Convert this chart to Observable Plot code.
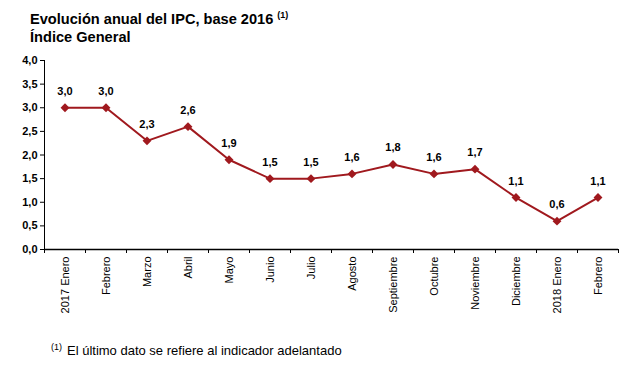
<!DOCTYPE html>
<html><head><meta charset="utf-8">
<script src="https://cdn.jsdelivr.net/npm/d3@7"></script>
<script src="https://cdn.jsdelivr.net/npm/@observablehq/plot@0.6"></script>
<style>
body{margin:0;background:#fff;font-family:"Liberation Sans",Arial,sans-serif;color:#000}
#wrap{position:relative;width:633px;height:366px}
#title{position:absolute;left:30px;top:6px;font-weight:bold;font-size:14.6px;line-height:18px;white-space:nowrap}
#title sup{font-size:9px;vertical-align:6px;margin-left:4px}
#foot{position:absolute;left:51px;top:340px;font-size:13px;line-height:15px;white-space:nowrap}
#foot sup{font-size:9px;vertical-align:5px;margin-right:5px}
#chart{position:absolute;left:0;top:0}
</style></head>
<body>
<div id="wrap">
<div id="chart"></div>
<div id="title">Evolución anual del IPC, base 2016<sup>(1)</sup><br>Índice General</div>
<div id="foot"><sup>(1)</sup>El último dato se refiere al indicador adelantado</div>
</div>
<script>
const months = ["2017 Enero","Febrero","Marzo","Abril","Mayo","Junio","Julio","Agosto","Septiembre","Octubre","Noviembre","Diciembre","2018 Enero","Febrero"];
const values = [3.0,3.0,2.3,2.6,1.9,1.5,1.5,1.6,1.8,1.6,1.7,1.1,0.6,1.1];
const yTicks = [0,0.5,1,1.5,2,2.5,3,3.5,4];
const color = "#a0191e";
const fmt = d => d.toFixed(1).replace(".", ",");
const data = months.map((m, i) => ({m, i, v: values[i]}));
const xc = d => d.i + 0.5;
const plot = Plot.plot({
  width: 633, height: 366,
  marginLeft: 44, marginRight: 15, marginTop: 60, marginBottom: 117,
  style: {fontFamily: "Liberation Sans, Arial, sans-serif", color: "#000", background: "transparent"},
  x: {type: "linear", domain: [0, months.length], axis: null},
  y: {domain: [0, 4], axis: null},
  marks: [
    Plot.axisY({ticks: yTicks, tickFormat: fmt, tickSize: 4, tickPadding: 3, fontWeight: "bold", fontSize: 11, label: null}),
    Plot.axisX({ticks: d3.range(months.length + 1), tickFormat: () => "", tickSize: 4, label: null}),
    Plot.ruleX([0], {y1: 0, y2: 4, stroke: "#000"}),
    Plot.ruleY([0], {stroke: "#000", strokeWidth: 1.5}),
    Plot.text(data, {x: xc, y: 0, text: "m", rotate: -90, textAnchor: "end", lineAnchor: "middle", dy: 7, fontSize: 11}),
    Plot.line(data, {x: xc, y: "v", stroke: color, strokeWidth: 2}),
    Plot.dot(data, {x: xc, y: "v", symbol: "diamond2", r: 4, fill: color, stroke: "none"}),
    Plot.text(data, {x: xc, y: "v", text: d => fmt(d.v), dy: -16.5, fontWeight: "bold", fontSize: 11})
  ]
});
document.getElementById("chart").appendChild(plot);
</script>
</body></html>
